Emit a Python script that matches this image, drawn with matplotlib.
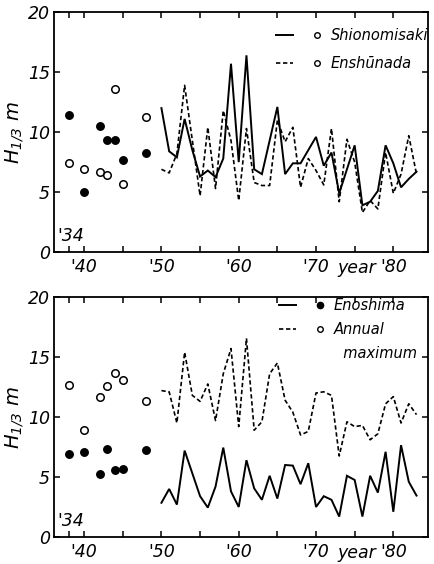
import matplotlib
matplotlib.use("Agg")
import matplotlib.pyplot as plt
from matplotlib.lines import Line2D
from matplotlib.legend_handler import HandlerTuple
import matplotlib.transforms as mtransforms

# years with scattered early readings, then continuous record
years_early = [1938, 1940, 1942, 1943, 1944, 1945, 1948]
years = list(range(1950, 1984))

# top panel
shio_early = [11.4, 5.0, 10.55, 9.33, 9.33, 7.7, 8.3]
ensh_early = [7.4, 6.9, 6.65, 6.4, 13.6, 5.7, 11.25]
shio = [12.0, 8.4, 7.9, 11.1, 8.5, 6.3, 6.8, 6.25, 7.8, 15.7,
        7.5, 16.4, 6.9, 6.5, 9.3, 12.1, 6.5, 7.4, 7.4, 8.5,
        9.6, 7.2, 8.3, 4.9, 6.9, 8.9, 3.9, 4.2, 5.1, 8.9,
        7.4, 5.4, 6.1, 6.7]
ensh = [6.9, 6.6, 8.2, 13.9, 9.3, 4.7, 10.4, 5.3, 11.8, 9.3,
        4.3, 10.3, 5.8, 5.55, 5.55, 11.0, 9.2, 10.4, 5.4, 7.8,
        6.8, 5.6, 10.3, 4.2, 9.4, 7.5, 3.3, 4.3, 3.6, 8.3,
        4.9, 6.5, 9.7, 6.5]

# bottom panel
eno_early = [6.9, 7.08, 5.25, 7.36, 5.6, 5.67, 7.22]
max_early = [12.7, 8.9, 11.7, 12.55, 13.67, 13.1, 11.3]
eno = [2.85, 4.0, 2.7, 7.2, 5.3, 3.4, 2.45, 4.2, 7.45, 3.8,
       2.5, 6.4, 4.05, 3.1, 5.1, 3.2, 6.0, 5.95, 4.4, 6.15,
       2.5, 3.4, 3.1, 1.7, 5.1, 4.75, 1.7, 5.1, 3.7, 7.1,
       2.1, 7.65, 4.6, 3.45]
ann_max = [12.2, 12.1, 9.5, 15.4, 11.8, 11.3, 12.75, 9.7, 13.6, 15.7,
           9.2, 16.55, 8.9, 9.6, 13.6, 14.5, 11.4, 10.4, 8.5, 8.8,
           12.0, 12.1, 11.8, 6.75, 9.6, 9.2, 9.3, 8.1, 8.6, 11.1,
           11.7, 9.5, 11.1, 10.2]

xticks = [1938, 1940, 1945, 1950, 1955, 1960, 1965, 1970, 1975, 1980]
xticklabels = ["", "'40", "", "'50", "", "'60", "", "'70", "", "'80"]
yticks = [0, 5, 10, 15, 20]

plt.rcParams['font.family'] = ['DejaVu Sans']
plt.rcParams['font.style'] = 'italic'
plt.rcParams['mathtext.fontset'] = 'dejavusans'

fig = plt.figure(figsize=(4.34, 5.64), dpi=100)
ax1 = fig.add_axes([0.1244, 0.553, 0.862, 0.4255])
ax2 = fig.add_axes([0.1244, 0.0479, 0.862, 0.4255])

solid_kw = dict(color='black', lw=1.4, solid_joinstyle='miter')
dash_kw = dict(color='black', lw=1.2, dashes=(2.6, 1.6))
filled_kw = dict(ls='none', marker='o', ms=5.4, mfc='black', mec='black')
open_kw = dict(ls='none', marker='o', ms=5.4, mfc='white', mec='black', mew=1.1)


def style_axes(ax):
    ax.set_xlim(1936.1, 1984.5)
    ax.set_ylim(0, 20)
    ax.set_xticks(xticks)
    ax.set_xticklabels(xticklabels)
    ax.set_yticks(yticks)
    ax.set_yticklabels([str(v) for v in yticks])
    ax.tick_params(direction='in', length=4, width=1.1, top=True, right=True,
                   labelsize=12.5, pad=4)
    ax.tick_params(axis='y', pad=3)
    for s in ax.spines.values():
        s.set_linewidth(1.3)
    ax.set_ylabel('$H_{1/3}$ m', fontsize=14, labelpad=1)
    ax.text(0.01, 0.03, "'34", transform=ax.transAxes, fontsize=12.5,
            ha='left', va='bottom')
    trans = mtransforms.blended_transform_factory(ax.transData, ax.transAxes)
    ax.text(1975.3, -0.028, "year", transform=trans, fontsize=12.5,
            ha='center', va='top')


def add_legend(ax, handles, labels, anchor, spacing):
    leg = ax.legend(handles, labels,
                    handler_map={tuple: HandlerTuple(ndivide=None, pad=1.1)},
                    loc='upper right', bbox_to_anchor=anchor, frameon=False,
                    fontsize=10.5, handlelength=3.4, handletextpad=0.35,
                    labelspacing=spacing, borderaxespad=0, borderpad=0)
    return leg


# top
ax1.plot(years, shio, **solid_kw)
ax1.plot(years, ensh, **dash_kw)
ax1.plot(years_early, shio_early, **filled_kw)
ax1.plot(years_early, ensh_early, **open_kw)
style_axes(ax1)

leg_mk = dict(ls='none', marker='o', ms=4, mfc='white', mec='black', mew=1)
h1 = (Line2D([], [], **solid_kw), Line2D([], [], **leg_mk))
h2 = (Line2D([], [], **dash_kw), Line2D([], [], **leg_mk))
add_legend(ax1, [h1, h2], ['Shionomisaki', 'Enshūnada'], (1.0, 0.935), 0.9)

# bottom
ax2.plot(years, eno, **solid_kw)
ax2.plot(years, ann_max, **dash_kw)
ax2.plot(years_early, eno_early, **filled_kw)
ax2.plot(years_early, max_early, **open_kw)
style_axes(ax2)

leg_f = dict(ls='none', marker='o', ms=4.5, mfc='black', mec='black')
h3 = (Line2D([], [], **solid_kw), Line2D([], [], **leg_f))
h4 = (Line2D([], [], **dash_kw), Line2D([], [], **leg_mk))
h5 = Line2D([], [], ls='none')
add_legend(ax2, [h3, h4, h5], ['Enoshima', 'Annual', '  maximum'],
           (0.97, 0.995), 0.62)

fig.savefig('out.png', dpi=100)
